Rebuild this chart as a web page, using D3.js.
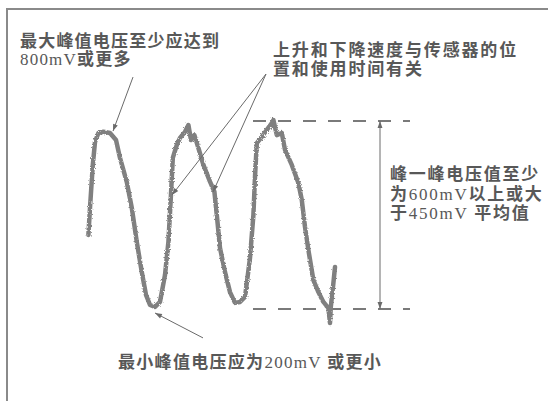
<!DOCTYPE html>
<html>
<head>
<meta charset="utf-8">
<script src="https://cdn.jsdelivr.net/npm/d3@7"></script>
<style>
  body { margin: 0; background: #fff; }
  svg { display: block; }
  .note { font-family: "Liberation Serif", "DejaVu Serif", "Noto Sans CJK SC", serif; font-size: 17px; fill: #585858; font-weight: bold; }
  .note .latin { font-weight: normal; }
</style>
</head>
<body>
<script>
// waveform: time (ms) and voltage (mV)
var waveT = [2, 10, 24, 35, 52, 77, 110, 140, 160, 194, 219, 244, 269, 290, 310, 335, 360, 385, 402, 414, 424, 444,
  460, 485, 502, 515, 532, 552, 577, 610, 632, 644, 660, 685, 710, 735, 760, 785, 810, 827,
  835, 844, 869, 894, 919, 927, 944, 969, 985, 1019, 1052, 1069, 1085, 1102, 1127, 1152, 1177, 1202, 1210, 1214, 1227, 1235];
var waveMV = [415, 530, 713, 811, 849, 854, 849, 819, 743, 640, 530, 385, 257, 160, 117, 109, 130, 245, 385, 572, 743, 798,
  828, 854, 883, 819, 840, 785, 713, 642, 599, 500, 360, 257, 172, 126, 130, 151, 317, 500,
  662, 806, 833, 862, 891, 904, 840, 849, 777, 713, 636, 564, 449, 351, 223, 172, 130, 104, 40, 109, 211, 279];

var maxLevel = 900, minLevel = 100;
var levelStart = 825, levelEnd = 1610, spanT = 1460;

// annotation texts
var noteMax = ["最大峰值电压至少应达到", "800mV或更多"];
var noteSlope = ["上升和下降速度与传感器的位", "置和使用时间有关"];
var noteSpan = ["峰一峰电压值至少", "为600mV以上或大", "于450mV 平均值"];
var noteMin = ["最小峰值电压应为200mV 或更小"];

// leader lines [fromT, fromMV, toT, toMV]
var leaders = [
  [225, 1087, 125, 857],
  [890, 1100, 420, 585],
  [890, 1100, 625, 598],
  [575, -23, 335, 83]
];

var width = 548, height = 401;
var x = d3.scaleLinear().domain([0, 1250]).range([88, 338]);
var y = d3.scaleLinear().domain([minLevel, maxLevel]).range([309, 121]);

var svg = d3.select("body").append("svg").attr("width", width).attr("height", height);

var defs = svg.append("defs");
defs.append("marker")
  .attr("id", "arr")
  .attr("viewBox", "0 0 10 10")
  .attr("refX", 10).attr("refY", 5)
  .attr("markerWidth", 9).attr("markerHeight", 7)
  .attr("markerUnits", "userSpaceOnUse")
  .attr("orient", "auto-start-reverse")
  .append("path").attr("d", "M0,1.5 L10,5 L0,8.5 Z").attr("fill", "#6a6a6a");

var rough = defs.append("filter").attr("id", "rough").attr("x", "-5%").attr("y", "-5%").attr("width", "110%").attr("height", "110%");
rough.append("feTurbulence").attr("type", "fractalNoise").attr("baseFrequency", 0.7).attr("numOctaves", 2).attr("seed", 5).attr("result", "n");
rough.append("feDisplacementMap").attr("in", "SourceGraphic").attr("in2", "n").attr("scale", 3);

// frame (top and left edges only)
svg.append("path")
  .attr("d", "M7,401 L7,9 L548,9")
  .attr("fill", "none").attr("stroke", "#8a8a8a").attr("stroke-width", 2);

// level lines
[maxLevel, minLevel].forEach(function(v) {
  svg.append("line")
    .attr("x1", x(levelStart)).attr("x2", x(levelEnd))
    .attr("y1", y(v)).attr("y2", y(v))
    .attr("stroke", "#7a7a7a").attr("stroke-width", 2)
    .attr("stroke-dasharray", "13,12");
});

// peak to peak span arrow
svg.append("line")
  .attr("x1", x(spanT)).attr("x2", x(spanT))
  .attr("y1", y(maxLevel)).attr("y2", y(minLevel))
  .attr("stroke", "#6a6a6a").attr("stroke-width", 1)
  .attr("marker-start", "url(#arr)").attr("marker-end", "url(#arr)");

// waveform
var wave = waveT.map(function(t, i) { return [t, waveMV[i]]; });
var line = d3.line().x(d => x(d[0])).y(d => y(d[1]));
svg.append("path")
  .attr("d", line(wave))
  .attr("fill", "none")
  .attr("stroke", "#808080")
  .attr("stroke-width", 4.5)
  .attr("stroke-linejoin", "round")
  .attr("stroke-linecap", "round")
  .attr("filter", "url(#rough)");

// leader lines
leaders.forEach(function(l) {
  svg.append("line")
    .attr("x1", x(l[0])).attr("y1", y(l[1]))
    .attr("x2", x(l[2])).attr("y2", y(l[3]))
    .attr("stroke", "#6a6a6a").attr("stroke-width", 1)
    .attr("marker-end", "url(#arr)");
});

// cjk runs bold, latin runs (numbers, units) regular
function addNote(lines, x0, y0, dy, ls) {
  lines.forEach(function(s, i) {
    var t = svg.append("text").attr("class", "note")
      .attr("x", x0).attr("y", y0 + i * dy)
      .style("letter-spacing", ls + "px");
    s.match(/[0-9A-Za-z ]+|[^0-9A-Za-z ]+/g).forEach(function(run) {
      t.append("tspan")
        .attr("class", /[0-9A-Za-z]/.test(run) ? "latin" : null)
        .text(run);
    });
  });
}
addNote(noteMax, 20, 47, 18, 1.2);
addNote(noteSlope, 273, 56, 19, 1.85);
addNote(noteSpan, 390, 180, 19.5, 1.75);
addNote(noteMin, 118, 368, 18, 1.3);
</script>
</body>
</html>
